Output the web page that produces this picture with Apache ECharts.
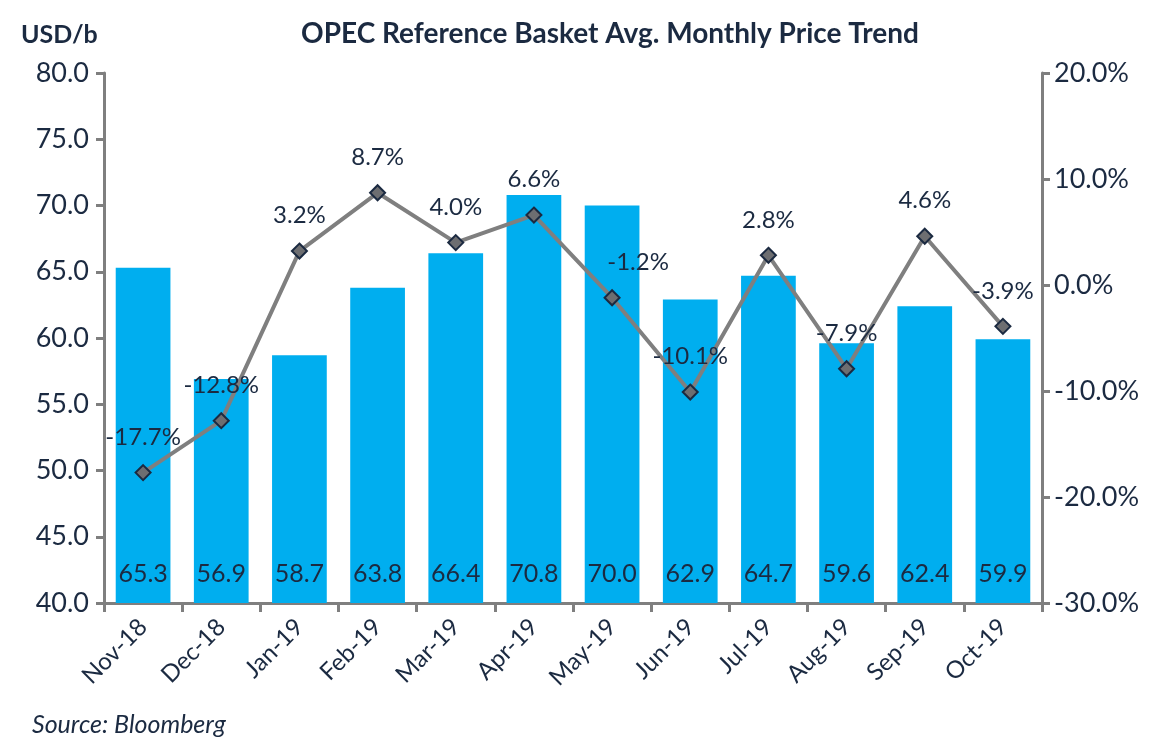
<!DOCTYPE html>
<html>
<head>
<meta charset="utf-8">
<script src="https://cdn.jsdelivr.net/npm/echarts@6/dist/echarts.min.js"></script>
<style>
  html, body { margin: 0; padding: 0; background: #fff; }
  #chart { width: 1174px; height: 750px; }
</style>
</head>
<body>
<div id="chart"></div>
<script>
var months = ['Nov-18', 'Dec-18', 'Jan-19', 'Feb-19', 'Mar-19', 'Apr-19', 'May-19', 'Jun-19', 'Jul-19', 'Aug-19', 'Sep-19', 'Oct-19'];
var avgPrice = [65.3, 56.9, 58.7, 63.8, 66.4, 70.8, 70.0, 62.9, 64.7, 59.6, 62.4, 59.9];
var momChange = [-17.7, -12.8, 3.2, 8.7, 4.0, 6.6, -1.2, -10.1, 2.8, -7.9, 4.6, -3.9];

var textColor = '#1b2a41';
var axisGrey = '#7f7f7f';
var font = 'Lato';

var myChart = echarts.init(document.getElementById('chart'));

var option = {
    animation: false,
    textStyle: { fontFamily: font },
    title: [
        {
            text: 'OPEC Reference Basket Avg. Monthly Price Trend',
            left: 605, top: 15, textAlign: 'center',
            textStyle: { fontSize: 28, fontWeight: 'bold', color: textColor, fontFamily: font }
        },
        {
            text: 'USD/b',
            left: 16, top: 17,
            textStyle: { fontSize: 25, fontWeight: 'bold', color: textColor, fontFamily: font }
        },
        {
            text: 'Source: Bloomberg',
            left: 27, top: 707,
            textStyle: { fontSize: 25, fontWeight: 'normal', fontStyle: 'italic', color: textColor, fontFamily: font }
        }
    ],
    grid: { left: 104, right: 132, top: 73, bottom: 147 },
    xAxis: {
        type: 'category',
        data: months,
        axisLine: { onZero: false, lineStyle: { color: axisGrey, width: 3 } },
        axisTick: { show: true, length: 9, lineStyle: { color: axisGrey, width: 3 } },
        axisLabel: { rotate: 45, fontSize: 24, color: textColor, margin: 20, interval: 0 }
    },
    yAxis: [
        {
            type: 'value', min: 40, max: 80, interval: 5,
            splitLine: { show: false },
            axisLine: { show: true, lineStyle: { color: axisGrey, width: 3 } },
            axisTick: { show: true, length: 8, lineStyle: { color: axisGrey, width: 3 } },
            axisLabel: { fontSize: 27, color: textColor, margin: 15, formatter: function (v) { return v.toFixed(1); } }
        },
        {
            type: 'value', min: -30, max: 20, interval: 10,
            splitLine: { show: false },
            axisLine: { show: true, lineStyle: { color: axisGrey, width: 3 } },
            axisTick: { show: true, length: 8, lineStyle: { color: axisGrey, width: 3 } },
            axisLabel: { fontSize: 27, color: textColor, margin: 12, formatter: function (v) { return v.toFixed(1) + '%'; } }
        }
    ],
    series: [
        {
            name: 'Avg. Price',
            type: 'bar',
            barWidth: '70%',
            itemStyle: { color: '#00aeef' },
            label: {
                show: true, position: 'insideBottom', distance: 17,
                fontSize: 25, color: textColor,
                formatter: function (p) { return p.value.toFixed(1); }
            },
            data: avgPrice
        },
        {
            name: 'MoM Change',
            type: 'line',
            yAxisIndex: 1,
            symbol: 'diamond',
            symbolSize: 15,
            lineStyle: { color: axisGrey, width: 4 },
            itemStyle: { color: '#6d6e71', borderColor: '#1b2a41', borderWidth: 2 },
            label: {
                show: true, position: 'top', distance: 15,
                fontSize: 24, color: textColor,
                formatter: function (p) { return p.value.toFixed(1) + '%'; }
            },
            data: momChange.map(function (v, i) {
                return i === 6 ? { value: v, label: { offset: [26, 0] } } : v;
            }),
            z: 5
        }
    ]
};

myChart.setOption(option);
</script>
</body>
</html>
